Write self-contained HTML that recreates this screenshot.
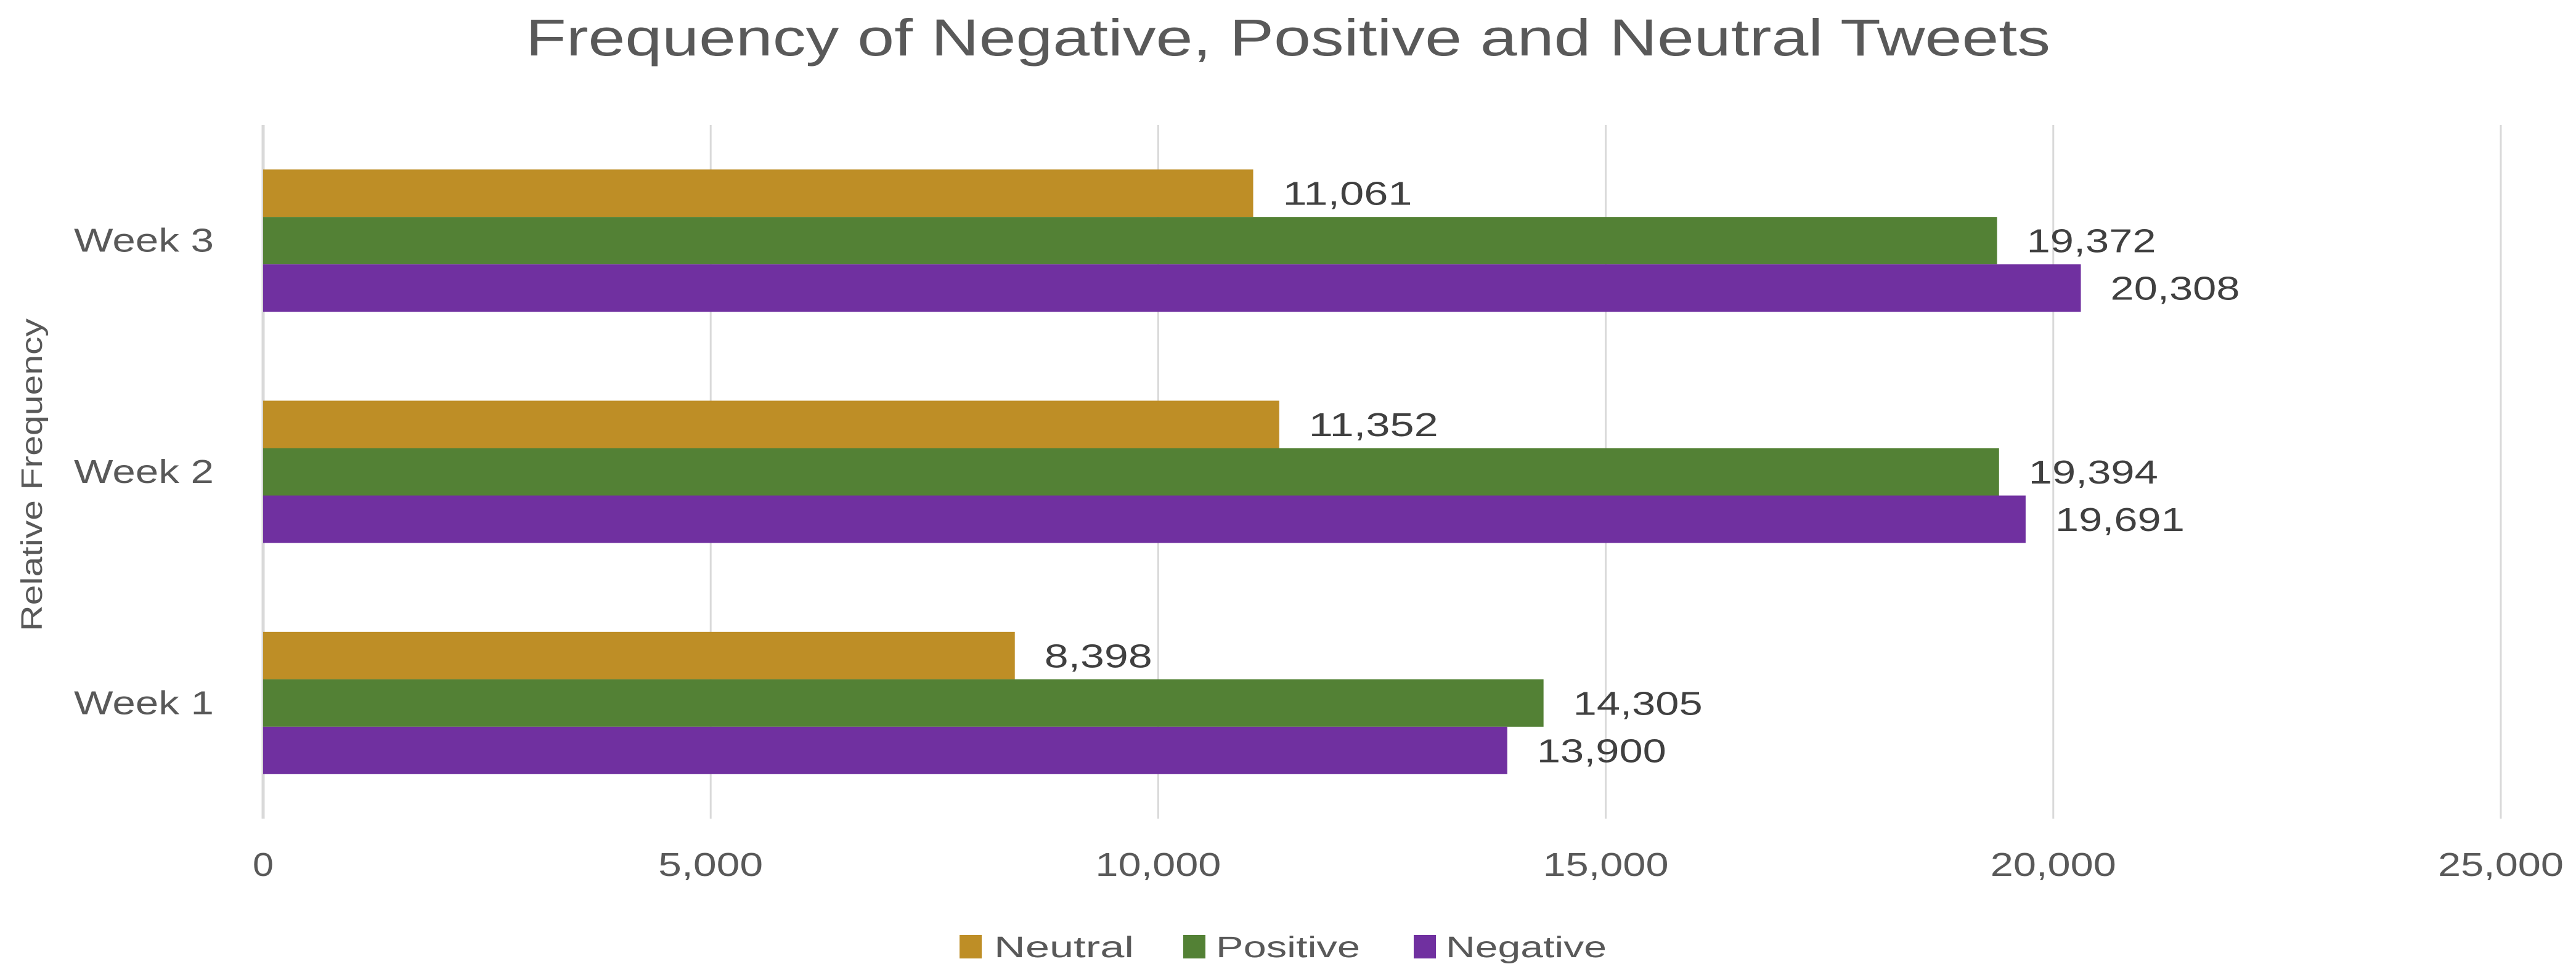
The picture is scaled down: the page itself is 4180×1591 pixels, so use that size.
<!DOCTYPE html>
<html><head><meta charset="utf-8"><style>
html,body{margin:0;padding:0;background:#fff;}
svg{display:block;font-family:"Liberation Sans",sans-serif;}
</style></head><body>
<svg id="chart" width="4180" height="1591" viewBox="0 0 4180 1591">
<text x="2090" y="90" text-anchor="middle" font-size="84" fill="#595959" textLength="2474" lengthAdjust="spacingAndGlyphs">Frequency of Negative, Positive and Neutral Tweets</text>
<text transform="translate(68,771) rotate(-90)" text-anchor="middle" font-size="48" fill="#595959" textLength="508" lengthAdjust="spacingAndGlyphs">Relative Frequency</text>
<g id="grid"></g><g id="bars"></g><g id="labels"></g>
<g>
 <rect x="1557" y="1518" width="36" height="38" fill="#BE8E26"/>
 <text x="1613" y="1554" font-size="48" fill="#595959" textLength="227" lengthAdjust="spacingAndGlyphs">Neutral</text>
 <rect x="1920" y="1518" width="36" height="38" fill="#538135"/>
 <text x="1973" y="1554" font-size="48" fill="#595959" textLength="234" lengthAdjust="spacingAndGlyphs">Positive</text>
 <rect x="2294" y="1518" width="36" height="38" fill="#7030A0"/>
 <text x="2346" y="1554" font-size="48" fill="#595959" textLength="261" lengthAdjust="spacingAndGlyphs">Negative</text>
</g>
</svg>
<script>
const categories = ["Week 1","Week 2","Week 3"];
const neutralValues = [8398, 11352, 11061];
const positiveValues = [14305, 19394, 19372];
const negativeValues = [13900, 19691, 20308];
const tickValues = [0, 5000, 10000, 15000, 20000, 25000];
const tickLabels = ["0","5,000","10,000","15,000","20,000","25,000"];

const NS="http://www.w3.org/2000/svg";
const X0=427, X1=4058, YT=203, YB=1329, XMAX=25000;
const xs=v=>X0+(v/XMAX)*(X1-X0);
const band=(YB-YT)/categories.length;
const bandTop=i=>YB-(i+1)*band;
const barH=77, groupOff=(band-3*barH)/2;
function mk(tag,attrs,parent){const e=document.createElementNS(NS,tag);for(const k in attrs)e.setAttribute(k,attrs[k]);parent.appendChild(e);return e;}
const grid=document.getElementById('grid'),bars=document.getElementById('bars'),labels=document.getElementById('labels');
tickValues.forEach((v,i)=>{
  const l=mk('line',{x1:xs(v),x2:xs(v),y1:YT,y2:YB,stroke:'#d9d9d9','stroke-width':i===0?5:3},grid);
  
  
  const s=tickLabels[i];
  const t=mk('text',{x:xs(v),y:1422,'text-anchor':'middle','font-size':54,fill:'#595959',textLength:s.length*34,lengthAdjust:'spacingAndGlyphs'},labels);
  t.textContent=s;
  
  
});
const series=[{vals:neutralValues,c:'#BE8E26',n:'neutral'},{vals:positiveValues,c:'#538135',n:'positive'},{vals:negativeValues,c:'#7030A0',n:'negative'}];
categories.forEach((cat,i)=>{
  const top=bandTop(i);
  const t=mk('text',{x:347,y:top+band/2+18,'text-anchor':'end','font-size':54,fill:'#595959',textLength:227,lengthAdjust:'spacingAndGlyphs'},labels);
  t.textContent=cat;
  
  
  series.forEach((s,j)=>{
    const y=top+groupOff+j*barH, v=s.vals[i];
    const r=mk('rect',{x:X0,y:y,width:xs(v)-X0,height:barH,fill:s.c},bars);
    
    
    const str=v.toLocaleString('en-US');
    const lt=mk('text',{x:xs(v)+48,y:y+barH/2+19,'font-size':54,fill:'#404040',textLength:str.length*35,lengthAdjust:'spacingAndGlyphs'},labels);
    lt.textContent=str;
    
    
  });
});
</script>
</body></html>
